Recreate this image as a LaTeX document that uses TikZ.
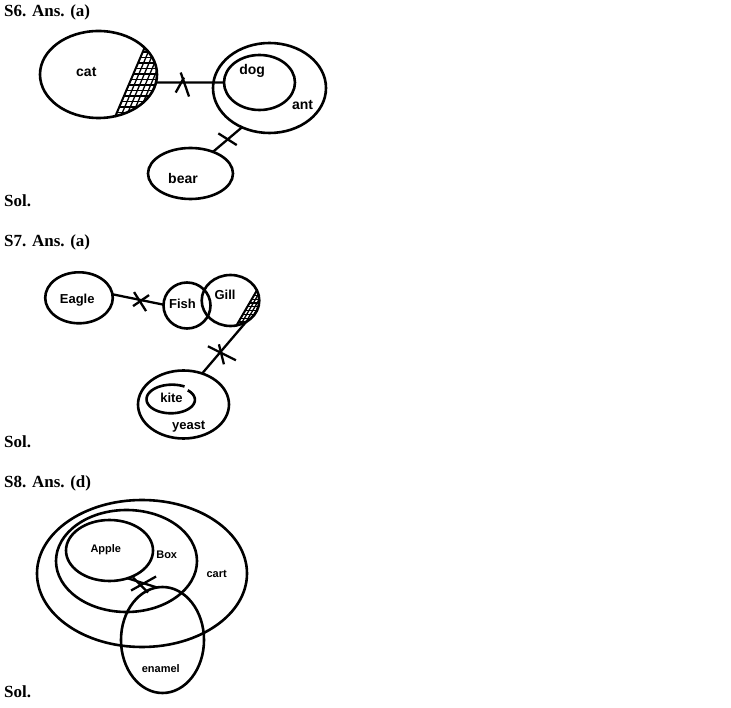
\documentclass[tikz,border=0pt]{standalone}
\usepackage{fontspec}
\setmainfont{Liberation Serif}
\newfontfamily\lab{Liberation Sans}
\usetikzlibrary{shapes.geometric,calc}
\tikzset{
  venn/.style={ellipse, draw, line width=2.6pt, inner sep=0pt, outer sep=0pt},
  conn/.style={line width=2.3pt},
  xmark/.style={line width=2.3pt},
  hatchline/.style={line width=1.3pt},
  chord/.style={line width=2pt},
  ttl/.style={anchor=base west, inner sep=0pt, font=\bfseries\fontsize{17}{20}\selectfont},
  lblA/.style={inner sep=0pt, font=\lab\bfseries\fontsize{14}{16}\selectfont},
  lblB/.style={inner sep=0pt, font=\lab\bfseries\fontsize{13}{15}\selectfont},
  lblC/.style={inner sep=0pt, font=\lab\bfseries\fontsize{11}{13}\selectfont},
}
\begin{document}
\begin{tikzpicture}[x=1pt,y=-1pt]
\fill[white] (0,0) rectangle (731,708);
\useasboundingbox (0,0) rectangle (731,708);

% ---------- S6 ----------
\node[ttl] (t6) at (4,17) {S6. Ans. (a)};
\node[ttl] (s6) at (4,207) {Sol.};

\begin{scope}
  \clip (98.5,74.5) ellipse [x radius=58.5pt, y radius=43.5pt];
  \clip (107.7,134) -- (153.8,26) -- (170,26) -- (170,134) -- cycle;
  \foreach \i in {0,...,12} {\draw[hatchline] ({99+5.5*\i},154.5) -- ({163+5.5*\i},4.5);}
  \foreach \y in {30,35.5,...,130} {\draw[hatchline] (100,\y) -- (170,\y);}
\end{scope}
\draw[chord] (115,117) -- (144.6,47.6);

\node[venn, minimum width=117pt, minimum height=87pt] (cat) at (98.5,74.5) {};
\node[venn, minimum width=113pt, minimum height=90pt] (ant) at (269.5,88) {};
\node[venn, minimum width=71pt, minimum height=55pt] (dog) at (259.5,82.5) {};
\node[venn, minimum width=85pt, minimum height=51pt] (bear) at (190.5,173.5) {};

\node[lblA] (lcat) at (86.3,71.7) {cat};
\node[lblA] (ldog) at (252.2,71.2) {dog};
\node[lblA] (lant) at (302.5,105.3) {ant};
\node[lblA] (lbear) at (183,178.3) {bear};

\draw[conn] (cat.-8) -- coordinate[pos=0.39] (x1) (dog.west);
\draw[xmark] ($(x1)+(-1.8,-10)$) -- ($(x1)+(6.5,14)$);
\draw[xmark] ($(x1)+(-6.8,10)$) -- ($(x1)+(1.5,-5)$);

\draw[conn] (bear.44) -- coordinate[pos=0.52] (x2) (ant.-125);
\draw[xmark] ($(x2)+(-9.7,-5.7)$) -- ($(x2)+(8.7,6)$);

% ---------- S7 ----------
\node[ttl] (t7) at (4,247) {S7. Ans. (a)};
\node[ttl] (s7) at (4,447) {Sol.};

\begin{scope}
  \clip (230.5,300.5) ellipse [x radius=28.8pt, y radius=25.5pt];
  \clip (230.9,335) -- (269.9,268) -- (275,268) -- (275,335) -- cycle;
  \foreach \i in {0,...,10} {\draw[hatchline] ({236.7+3.8*\i-15},350.7) -- ({236.7+3.8*\i+25},282.1);}
  \foreach \y in {284,287.8,...,332} {\draw[hatchline] (225,\y) -- (270,\y);}
\end{scope}
\draw[chord] (236.7,325) -- (256.7,290.7);

\node[venn, minimum width=67.6pt, minimum height=51pt] (eagle) at (79,297.8) {};
\node[venn, minimum width=47pt, minimum height=46pt] (fish) at (187,305.5) {};
\node[venn, minimum width=57.6pt, minimum height=51pt] (gill) at (230.5,300.5) {};
\node[venn, minimum width=91pt, minimum height=68pt] (yeast) at (183.5,404.5) {};
\draw[line width=2.6pt] plot[domain=-60:-405, samples=80, smooth]
  ({171.5+(26-3*(-60-\x)/345)*cos(\x)}, {399.5+(15-2*(-60-\x)/345)*sin(\x)});
\coordinate (kite) at (171.5,399.5);

\node[lblB] (leagle) at (77.2,299.7) {Eagle};
\node[lblB] (lfish) at (182.5,304.3) {Fish};
\node[lblB] (lgill) at (225,295) {Gill};
\node[lblB] (lkite) at (171.5,397.6) {kite};
\node[lblB] (lyeast) at (188.7,426.5) {yeast};

\draw[conn] (eagle.6) -- coordinate[pos=0.56] (x3) (fish.178);
\draw[xmark] ($(x3)+(-7,-8)$) -- ($(x3)+(5,11)$);
\draw[xmark] ($(x3)+(-8,6)$) -- ($(x3)+(8,-5)$);

\draw[conn] (gill.-54) -- coordinate[pos=0.55] (x4) (yeast.59);
\draw[xmark] ($(x4)+(-14,-4)$) -- ($(x4)+(14,10)$);
\draw[xmark] ($(x4)+(-3,-6)$) -- ($(x4)+(2,14)$);

% ---------- S8 ----------
\node[ttl] (t8) at (4,487) {S8. Ans. (d)};
\node[ttl] (s8) at (4,697) {Sol.};

\node[venn, minimum width=210pt, minimum height=147pt] (cart) at (142,573.5) {};
\node[venn, minimum width=141pt, minimum height=102pt] (box) at (126.5,561) {};
\node[venn, minimum width=87pt, minimum height=61pt] (apple) at (109.5,550.5) {};
\node[venn, minimum width=83pt, minimum height=106pt] (enamel) at (162.5,640) {};

\node[lblC] (lapple) at (105.8,550) {Apple};
\node[lblC] (lbox) at (166.7,554.7) {Box};
\node[lblC] (lcart) at (216.7,573.8) {cart};
\node[lblC] (lenamel) at (160.8,668.3) {enamel};

\draw[conn] (apple.-57) -- coordinate[pos=0.46] (x5) (enamel.96);
\draw[xmark] ($(x5)+(-10,8)$) -- ($(x5)+(15,-6)$);
\draw[xmark] ($(x5)+(-8,-5)$) -- ($(x5)+(7,10)$);
\end{tikzpicture}
\end{document}
